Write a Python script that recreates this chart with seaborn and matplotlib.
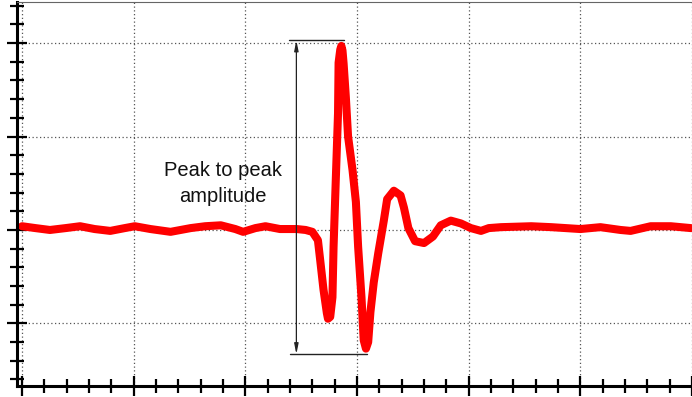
import numpy as np
import pandas as pd
import matplotlib.pyplot as plt
from matplotlib.ticker import MultipleLocator
import seaborn as sns

# time (divisions) and amplitude (divisions)
time = [0.00, 0.12, 0.25, 0.39, 0.52, 0.65, 0.79, 0.92, 1.01, 1.15, 1.33, 1.51,
        1.64, 1.78, 1.91, 1.98, 2.09, 2.18, 2.31, 2.46, 2.54, 2.60, 2.65, 2.67,
        2.70, 2.73, 2.74, 2.76, 2.78, 2.79, 2.81, 2.83, 2.835, 2.85, 2.86, 2.87,
        2.88, 2.90, 2.92, 2.96, 2.99, 3.01, 3.04, 3.06, 3.08, 3.10, 3.12, 3.15,
        3.19, 3.24, 3.27, 3.33, 3.39, 3.42, 3.46, 3.52, 3.60, 3.68, 3.75, 3.84,
        3.93, 4.02, 4.11, 4.18, 4.29, 4.56, 4.74, 5.00, 5.18, 5.36, 5.45, 5.63,
        5.81, 5.99]
amplitude = [0.04, 0.02, 0.00, 0.02, 0.04, 0.01, -0.01, 0.02, 0.04, 0.01, -0.02, 0.02,
             0.04, 0.05, 0.01, -0.02, 0.02, 0.04, 0.01, 0.01, 0.00, -0.02, -0.11, -0.32,
             -0.64, -0.89, -0.95, -0.93, -0.72, -0.18, 0.54, 1.25, 1.79, 1.93, 1.97, 1.92,
             1.78, 1.42, 1.00, 0.64, 0.30, -0.18, -0.72, -1.18, -1.27, -1.20, -0.88, -0.56,
             -0.25, 0.10, 0.33, 0.42, 0.37, 0.24, 0.02, -0.12, -0.14, -0.07, 0.05, 0.10,
             0.07, 0.02, -0.01, 0.02, 0.03, 0.04, 0.03, 0.01, 0.03, 0.00, -0.01, 0.04,
             0.04, 0.02]

peak_top = 2.03
peak_bottom = -1.33
label = "Peak to peak\namplitude"

df = pd.DataFrame({"time": time, "amplitude": amplitude})

sns.set_style("white")
plt.rcParams['font.family'] = ['Liberation Sans', 'DejaVu Sans']

fig = plt.figure(figsize=(6.92, 3.97), dpi=100)
ax = fig.add_axes([17 / 692, 11 / 397, 675 / 692, 384 / 397])

# grid
ax.grid(True, which='major', linestyle=(0, (1, 2)), color='#555555', linewidth=0.9)
ax.set_axisbelow(True)

sns.lineplot(data=df, x="time", y="amplitude", ax=ax, color='#ff0000',
             linewidth=5.8, solid_capstyle='round', solid_joinstyle='round',
             sort=False, legend=False)

ax.set_xlim(-0.045, 6.0)
ax.set_ylim(-1.67, 2.44)
ax.xaxis.set_major_locator(MultipleLocator(1))
ax.xaxis.set_minor_locator(MultipleLocator(0.2))
ax.yaxis.set_major_locator(MultipleLocator(1))
ax.yaxis.set_minor_locator(MultipleLocator(0.2))
ax.tick_params(which='both', direction='inout', left=True, bottom=True,
               labelleft=False, labelbottom=False, color='black')
ax.tick_params(which='major', length=15, width=1.6)
ax.tick_params(which='minor', length=10, width=1.6)
ax.set_xlabel("")
ax.set_ylabel("")

for side in ['left', 'bottom']:
    ax.spines[side].set_linewidth(2.2)
    ax.spines[side].set_color('black')
ax.spines['top'].set_linewidth(0.8)
ax.spines['top'].set_color('#666666')
ax.spines['right'].set_visible(False)

# peak to peak marker
ax.plot([2.39, 2.88], [peak_top, peak_top], color='#222222', linewidth=1)
ax.plot([2.40, 3.09], [peak_bottom, peak_bottom], color='#222222', linewidth=1)
ax.annotate("", xy=(2.457, peak_top), xytext=(2.457, peak_bottom),
            arrowprops=dict(arrowstyle='<|-|>,head_length=0.6,head_width=0.12',
                            color='#222222', linewidth=0.9,
                            shrinkA=0, shrinkB=0))
ax.text(1.80, 0.50, label, ha='center', va='center', fontsize=14.5,
        color='#111111', linespacing=1.5)

fig.savefig("out.png", dpi=100)
